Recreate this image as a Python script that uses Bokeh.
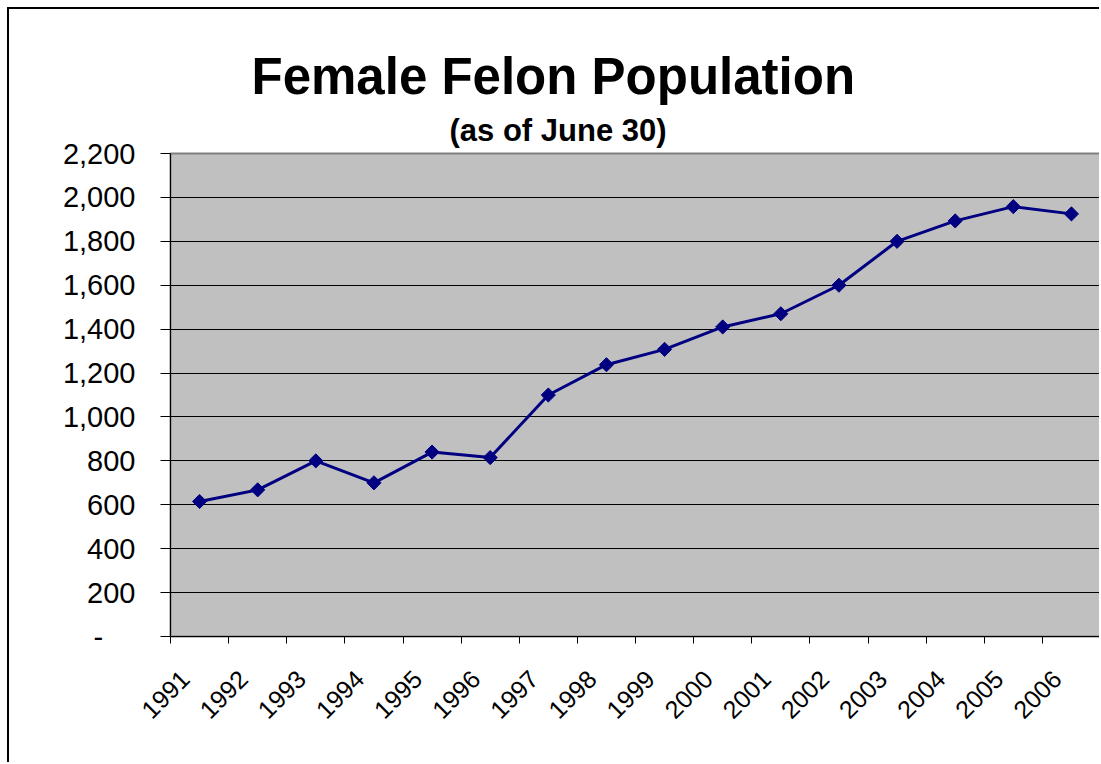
import math
from bokeh.plotting import figure
from bokeh.models import (Range1d, LinearAxis, FixedTicker, Title,
                          NumeralTickFormatter, ColumnDataSource)
from bokeh.embed import file_html
from bokeh.resources import INLINE

years = ["1991", "1992", "1993", "1994", "1995", "1996", "1997", "1998",
         "1999", "2000", "2001", "2002", "2003", "2004", "2005", "2006"]
population = [615, 668, 800, 700, 840, 815, 1100, 1238, 1308, 1410,
              1470, 1600, 1800, 1893, 1958, 1925]
y_ticks = [0, 200, 400, 600, 800, 1000, 1200, 1400, 1600, 1800, 2000, 2200]
title_text = "Female Felon Population"
subtitle_text = "(as of June 30)"

FONT = "Liberation Sans"
NAVY = "#000080"
LABEL_SHIFT = 0.25  # rotated year labels sit left of the category centre

n = len(years)
centers = [i + 0.5 for i in range(n)]
label_pos = [c - LABEL_SHIFT for c in centers]
source = ColumnDataSource(data=dict(x=centers, year=years, value=population))

p = figure(width=1092, height=755,
           x_range=Range1d(0, n), y_range=Range1d(0, 2200),
           output_backend="svg", toolbar_location=None, title=None,
           x_axis_location=None, y_axis_location="left",
           min_border_left=161, min_border_right=1,
           min_border_top=144, min_border_bottom=128,
           background_fill_color="#C0C0C0", border_fill_color="white",
           outline_line_color="#808080", outline_line_width=2,
           styles={"margin-left": "7px", "margin-top": "7px",
                   "border-left": "2px solid black", "border-top": "2px solid black"})

edge_axis = LinearAxis(ticker=FixedTicker(ticks=list(range(n + 1))),
                       major_tick_out=7, major_tick_in=0,
                       minor_tick_out=0, minor_tick_in=0,
                       major_label_text_font_size="0px",
                       major_label_text_color=None, major_label_standoff=0,
                       axis_line_color="black", axis_line_width=1,
                       major_tick_line_color="black")
label_axis = LinearAxis(ticker=FixedTicker(ticks=label_pos),
                        major_label_overrides={c: y for c, y in zip(label_pos, years)},
                        major_tick_out=0, major_tick_in=0,
                        minor_tick_out=0, minor_tick_in=0,
                        axis_line_color=None, major_tick_line_color=None,
                        major_label_orientation=math.pi / 4,
                        major_label_text_font=FONT,
                        major_label_text_font_size="25px",
                        major_label_text_color="black",
                        major_label_standoff=31)
p.add_layout(edge_axis, "below")
p.add_layout(label_axis, "below")

ya = p.yaxis[0]
ya.ticker = FixedTicker(ticks=y_ticks)
ya.formatter = NumeralTickFormatter(format="0,0")
ya.major_label_overrides = {0: "-\u00a0\u00a0\u00a0\u00a0"}
ya.major_tick_out = 10
ya.major_tick_in = 0
ya.minor_tick_out = 0
ya.minor_tick_in = 0
ya.axis_line_color = "black"
ya.major_tick_line_color = "black"
ya.major_label_text_font = FONT
ya.major_label_text_font_size = "29px"
ya.major_label_text_color = "black"
ya.major_label_standoff = 25

p.ygrid.ticker = FixedTicker(ticks=y_ticks)
p.ygrid.grid_line_color = "black"
p.ygrid.grid_line_width = 1
p.xgrid.visible = False

p.line(x="x", y="value", source=source, line_color=NAVY, line_width=3)
p.scatter(x="x", y="value", source=source, marker="square", size=10,
          angle=math.pi / 4, fill_color=NAVY, line_color=NAVY)

sub = Title(text=subtitle_text, align="left", offset=279,
            text_font=FONT, text_font_size="31px", text_font_style="bold",
            text_color="black", standoff=12)
main = Title(text=title_text, align="left", offset=81,
             text_font=FONT, text_font_size="51px", text_font_style="bold",
             text_color="black", standoff=0)
p.add_layout(sub, "above")
p.add_layout(main, "above")

open("out.html", "w").write(file_html(p, INLINE))
